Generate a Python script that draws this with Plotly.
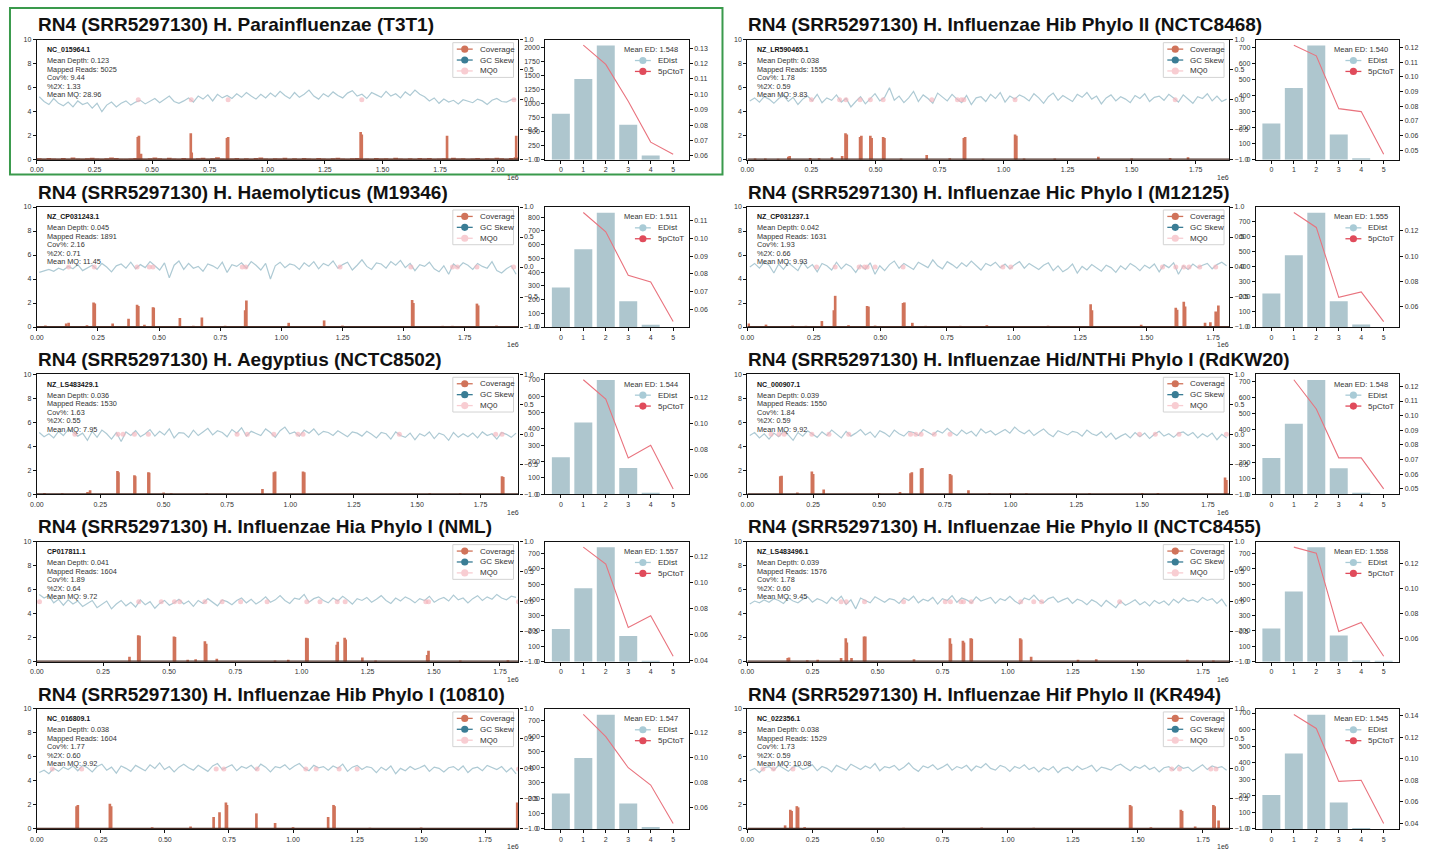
import plotly.graph_objects as go

W, H = 1434, 852

# ---------------- panel metadata ----------------
TITLES = [
    "RN4 (SRR5297130) H. Parainfluenzae (T3T1)",
    "RN4 (SRR5297130) H. Influenzae Hib Phylo II (NCTC8468)",
    "RN4 (SRR5297130) H. Haemolyticus (M19346)",
    "RN4 (SRR5297130) H. Influenzae Hic Phylo I (M12125)",
    "RN4 (SRR5297130) H. Aegyptius (NCTC8502)",
    "RN4 (SRR5297130) H. Influenzae Hid/NTHi Phylo I (RdKW20)",
    "RN4 (SRR5297130) H. Influenzae Hia Phylo I (NML)",
    "RN4 (SRR5297130) H. Influenzae Hie Phylo II (NCTC8455)",
    "RN4 (SRR5297130) H. Influenzae Hib Phylo I (10810)",
    "RN4 (SRR5297130) H. Influenzae Hif Phylo II (KR494)",
]
ACCESSIONS = ["NC_015964.1", "NZ_LR590465.1", "NZ_CP031243.1", "NZ_CP031237.1", "NZ_LS483429.1",
              "NC_000907.1", "CP017811.1", "NZ_LS483496.1", "NC_016809.1", "NC_022356.1"]
MEAN_DEPTH = ["0.123", "0.038", "0.045", "0.042", "0.036", "0.039", "0.041", "0.039", "0.038", "0.038"]
MAPPED_READS = ["5025", "1555", "1891", "1631", "1530", "1550", "1604", "1576", "1604", "1529"]
COV_PCT = ["9.44", "1.78", "2.16", "1.93", "1.63", "1.84", "1.89", "1.78", "1.77", "1.73"]
PCT_2X = ["1.33", "0.59", "0.71", "0.66", "0.55", "0.59", "0.64", "0.60", "0.60", "0.59"]
MEAN_MQ = ["28.96", "9.83", "11.45", "9.93", "7.95", "9.92", "9.72", "9.45", "9.92", "10.08"]
MEAN_ED = ["1.548", "1.540", "1.511", "1.555", "1.544", "1.548", "1.557", "1.558", "1.547", "1.545"]
GENOME_LEN = [2.09e6, 1.88e6, 1.97e6, 1.81e6, 1.90e6, 1.83e6, 1.82e6, 1.85e6, 1.88e6, 1.85e6]

# ---------------- GC skew (x100), evenly spaced windows ----------------
SKEW_1 = [5,-3,-8,2,-6,-10,-4,-12,-2,-8,-5,-14,-6,-20,-9,-4,-12,-6,-2,-9,-4,-1,-7,-3,2,-5,0,6,-3,-6,
          -2,3,-4,6,1,8,-2,9,3,7,2,10,4,12,6,1,9,3,11,5,14,7,2,12,4,9,16,6,1,10,5,13,7,3,11,15,6,9,2,12,
          8,4,14,6,10,3,13,7,16,9,5,-2,3,-6,1,-4,-1,-7,0,-3,-5,1,-2,-8,-1,2,-3,-4,0,1]
SKEW_2 = [-2,3,-4,5,1,-6,2,7,-3,4,-8,1,6,-2,9,-5,3,-1,8,-4,2,-12,-3,5,-7,1,10,-2,4,20,-1,6,-5,3,14,-3,8,2,-6,11,
          4,-2,9,1,-5,7,-8,3,5,-3,9,2,12,-4,6,1,8,4,-2,10,3,-6,5,11,-1,7,2,-3,9,4,12,1,6,-7,3,8,-2,5,1,-5,
          7,2,10,-3,4,6,-1,9,3,-4,8,1,-6,5,2,10,-2,6,-3,1]
SKEW_3 = [-9,-6,-4,-7,-2,-5,1,-3,4,-6,-1,3,-4,6,0,-8,2,5,-2,8,-3,4,-1,9,2,-5,7,-18,3,10,-4,6,-2,1,-7,5,2,-3,8,-9,
          4,1,7,-2,9,3,-5,6,-20,2,8,-1,5,3,-4,7,1,9,-3,6,2,10,-2,4,8,-5,3,12,1,-4,7,5,-2,9,3,11,-1,6,-6,4,
          1,8,-3,-8,2,-12,5,-1,7,3,-4,6,1,-2,9,-6,-10,-3,2,-12]
SKEW_4 = [0,6,-2,8,3,-10,5,-4,7,1,-6,9,-2,4,-8,6,2,-5,8,-3,5,1,-9,3,-4,7,-12,2,-6,4,10,-2,6,1,-4,8,3,-1,12,2,
          -3,9,4,-2,7,1,10,3,-5,6,2,8,-1,5,-3,4,9,-2,6,1,-4,3,7,-6,2,-8,-3,5,-10,1,-5,4,-2,-7,3,-1,-9,2,-4,6,
          1,-6,3,-2,5,-8,4,-1,7,-12,2,-4,5,-1,3,6,-3,4,8,2]
SKEW_5 = [3,-4,1,-6,5,-2,8,4,-3,2,-10,5,-5,7,1,-8,3,-12,4,-2,6,-4,1,8,-3,5,-1,9,-6,3,2,-5,7,-2,4,10,-1,6,3,-4,
          8,2,11,-3,5,1,-2,9,3,-5,6,12,1,4,-3,7,2,9,-1,5,3,-2,6,1,-4,4,2,-3,5,0,-6,3,1,-8,4,-2,-5,2,-9,1,
          -3,4,-7,2,-1,-10,3,-5,1,-4,2,-6,4,-2,1,-8,3,0,-5,2]
SKEW_6 = [-2,3,-6,1,-8,2,-4,5,-1,-10,3,-3,6,1,-5,4,-2,7,0,-6,5,-3,2,8,-1,4,-5,6,2,-4,7,1,-3,5,3,-2,8,4,-1,6,
          2,10,3,-2,7,1,5,-3,9,2,6,-1,4,8,2,12,5,1,7,-2,4,9,1,-4,6,2,-1,5,3,-3,7,1,-2,4,-5,2,-8,-3,1,-6,
          3,-4,2,-7,0,5,-3,1,-5,2,4,-2,3,-6,1,-4,2,-9,0,-6]
SKEW_7 = [12,6,10,-2,4,-6,3,-4,1,-8,-3,2,-10,-5,1,-12,-4,2,-7,-1,-9,3,-5,0,-11,-3,2,-6,-2,4,-4,1,-8,2,-3,5,-1,-7,3,0,
          -5,2,6,-2,4,-4,1,8,-1,3,10,2,-3,6,4,12,-1,5,8,2,-2,6,1,9,3,-4,5,2,7,-1,4,10,2,-3,6,1,8,4,-2,5,
          2,9,-1,4,7,1,11,3,6,-2,5,10,2,8,4,12,6,3,9,7]
SKEW_8 = [-4,1,-2,3,-1,5,2,-3,6,1,-2,4,8,-1,5,2,-3,7,1,9,-5,3,-12,6,2,-2,8,4,-1,5,3,-3,6,2,9,-2,4,1,7,-4,
          5,2,10,-1,6,3,-2,8,1,4,7,-3,5,2,9,1,-4,6,3,11,2,-2,5,8,-1,3,6,-3,4,1,-5,3,-1,-8,2,-4,-10,1,-6,-2,
          3,-5,0,-7,2,-3,1,-6,4,-2,6,1,3,-1,7,2,5,-3,4,-8]
SKEW_9 = [-6,-2,-8,1,-4,3,-1,5,-3,6,2,-5,4,8,-2,3,-7,5,1,-4,6,2,-3,7,1,10,-1,4,-5,3,8,2,-2,6,1,-4,5,9,-1,3,
          7,-3,4,1,6,-2,8,3,-5,4,2,7,-1,5,9,1,-3,6,2,4,-2,5,1,8,-4,3,6,-1,4,2,-6,3,-2,5,-8,1,-3,4,-1,2,
          6,-4,3,1,-5,2,4,-2,5,-6,1,3,-3,6,2,-1,4,-5,2,-8]
SKEW_10 = [-3,1,-6,2,4,-2,6,1,-4,3,5,-1,2,7,-3,4,1,-5,6,2,-2,8,3,-1,5,1,9,-3,4,2,6,-2,3,10,1,-4,5,2,7,-1,
           3,8,-2,4,1,6,-3,5,2,9,1,-2,6,3,-4,4,1,7,-1,3,-5,2,-2,4,-6,1,3,-3,5,-1,2,6,-4,3,1,-2,5,8,2,-3,
           4,1,6,-1,3,-5,2,4,-2,6,1,3,-4,2,7,-1,5,2,4,-2]

# ---------------- coverage: low background (x100, panel 1 only) ----------------
LOW_1 = [12,8,15,10,6,14,9,18,11,7,13,16,10,8,12,19,14,9,6,11,15,10,7,13,18,12,9,16,11,8,
         14,10,6,12,17,9,13,20,11,8,10,15,7,12,9,14,18,10,6,13,11,16,8,12,9,15,10,7,14,11,
         9,13,17,10,8,12,15,9,11,6,14,10,13,8,16,11,9,12,7,15,10,14,8,11,13,9,16,10,12,8,
         11,15,9,13,10,17,12,8,14,20]

# ---------------- coverage peaks: positions (Mb) and depth ----------------
COVPOS_1 = [0.438,0.443,0.452,0.668,0.672,0.825,0.83,1.405,1.41,1.78,2.08]
COVH_1 = [1.9,2.0,0.5,2.2,0.6,1.8,1.9,2.3,2.1,2.0,2.0]
COVPOS_2 = [0.383,0.388,0.44,0.445,0.48,0.485,0.53,0.535,0.845,0.85,1.045,1.05,0.16,0.165,0.70,0.37,0.245,0.03,1.37,
            0.07,0.12,0.28,0.33,0.6,0.79,0.92,1.08,1.2,1.5,1.65,1.72]
COVH_2 = [2.2,2.1,1.9,2.0,2.0,1.8,1.9,1.8,1.8,1.9,2.1,2.0,0.25,0.3,0.4,0.3,0.15,0.1,0.25,
          0.1,0.08,0.12,0.2,0.1,0.12,0.08,0.1,0.1,0.1,0.15,0.2]
COVPOS_3 = [0.232,0.237,0.41,0.415,0.475,0.478,0.585,0.675,0.852,0.857,1.535,1.54,1.80,1.805,0.375,0.13,0.12,0.31,
            1.03,1.175,0.035,0.205,0.44,0.64,0.77,1.25,1.66,1.70,1.88]
COVH_3 = [2.05,1.95,1.85,1.75,1.65,1.6,0.75,0.8,1.4,2.2,2.25,2.0,1.95,1.8,0.7,0.35,0.3,0.3,
          0.35,0.55,0.12,0.15,0.2,0.1,0.1,0.12,0.1,0.1,0.12]
COVPOS_4 = [0.325,0.33,0.45,0.455,0.585,0.59,0.28,0.62,1.29,1.295,1.61,1.615,1.64,1.645,1.76,1.77,0.005,0.07,
            0.17,0.22,0.38,0.48,0.67,0.8,0.9,1.13,1.48,1.72,1.74]
COVH_4 = [1.4,2.6,1.75,1.7,2.0,2.05,0.5,0.35,1.9,1.4,1.6,1.45,2.1,1.7,1.3,1.8,0.3,0.2,
          0.12,0.1,0.15,0.12,0.1,0.1,0.15,0.1,0.2,0.35,0.4]
COVPOS_5 = [0.318,0.322,0.385,0.388,0.44,0.443,0.935,0.94,1.05,1.055,1.835,1.84,0.21,0.89,0.03,0.1,0.2,0.5,
            0.53,0.67,1.55,1.67,1.95]
COVH_5 = [1.95,1.85,1.6,1.5,1.85,1.8,1.85,1.9,1.9,1.85,1.5,1.45,0.35,0.45,0.12,0.1,0.2,0.15,
          0.1,0.1,0.1,0.1,0.12]
COVPOS_6 = [0.125,0.13,0.245,0.25,0.62,0.625,0.66,0.665,0.77,0.775,1.815,1.82,0.29,0.84,0.19,0.5,0.58,0.92,
            1.0,1.06,1.3,1.5,1.56]
COVH_6 = [1.5,1.55,1.9,1.7,1.75,1.85,2.15,2.2,1.7,1.6,1.4,1.2,0.4,0.35,0.15,0.12,0.2,0.1,
          0.12,0.1,0.08,0.12,0.12]
COVPOS_7 = [0.383,0.388,0.518,0.522,0.635,0.64,1.018,1.023,1.133,1.137,1.163,1.167,1.475,1.48,0.35,1.23,0.57,0.6,
            0.68,0.9,0.95,1.28,1.6,1.78]
COVH_7 = [2.2,2.15,2.1,2.05,1.7,1.5,2.0,1.95,1.4,1.65,2.0,1.85,0.55,0.9,0.4,0.35,0.15,0.2,
          0.25,0.1,0.15,0.1,0.1,0.12]
COVPOS_8 = [0.378,0.382,0.448,0.453,0.778,0.782,0.828,0.832,0.858,0.862,1.048,1.052,0.155,0.16,1.09,0.36,0.4,0.27,
            0.23,0.64,1.27,1.34,1.69,1.79]
COVH_8 = [1.95,1.6,2.1,2.1,1.95,1.5,1.75,1.6,1.95,1.9,1.95,1.85,0.3,0.35,0.4,0.3,0.3,0.15,
          0.12,0.2,0.15,0.2,0.15,0.1]
COVPOS_9 = [0.155,0.16,0.285,0.29,0.69,0.713,0.738,0.742,0.857,1.137,1.158,1.162,1.875,1.88,0.93,0.45,0.6,1.0,1.3,1.5]
COVH_9 = [1.9,2.0,2.1,1.9,1.0,1.4,2.2,2.0,1.3,1.0,2.0,1.9,2.2,1.8,0.5,0.15,0.2,0.15,0.1,0.12]
COVPOS_10 = [0.145,0.165,0.17,0.19,0.195,1.47,1.475,1.665,1.67,1.79,1.795,1.81,0.22,0.6,0.9,1.1,1.55,1.72]
COVH_10 = [0.3,1.6,1.5,1.9,1.8,2.0,1.9,1.6,1.5,2.0,1.9,0.7,0.15,0.1,0.12,0.1,0.15,0.2]

# ---------------- MQ0 window positions (Mb) ----------------
MQ0_1 = [0.44,0.67,0.83,1.41,2.07]
MQ0_2 = [0.25,0.36,0.385,0.44,0.48,0.53,0.72,0.82,0.835,0.845,1.045,1.67]
MQ0_3 = [0.13,0.235,0.41,0.46,0.475,0.84,0.855,1.24,1.53,1.70,1.72,1.80,1.95]
MQ0_4 = [0.26,0.33,0.42,0.44,0.45,0.48,0.585,0.96,0.99,1.56,1.61,1.64,1.66,1.70,1.76]
MQ0_5 = [0.15,0.32,0.34,0.385,0.44,0.79,0.83,0.935,1.03,1.05,1.43,1.81,1.835,1.94]
MQ0_6 = [0.09,0.12,0.14,0.245,0.31,0.385,0.62,0.64,0.66,0.71,0.77,1.49,1.55,1.64,1.82]
MQ0_7 = [0.01,0.385,0.47,0.52,0.54,0.635,0.70,0.77,0.87,1.02,1.07,1.135,1.165,1.47,1.48,1.82]
MQ0_8 = [0.36,0.38,0.45,0.60,0.76,0.78,0.82,0.83,0.86,1.05,1.10,1.13,1.43]
MQ0_9 = [0.06,0.175,0.70,0.73,0.86,1.05,1.09,1.18,1.25,1.88]
MQ0_10 = [0.06,0.10,0.175,1.63,1.66,1.78,1.80]

# ---------------- edit distance histogram & 5' C->T ----------------
ED_BINS = [0, 1, 2, 3, 4, 5]
CTOT_POS = [1, 2, 3, 4, 5]
EDIST_1 = [820,1440,2040,625,75,0]
EDIST_2 = [226,448,714,158,9,0]
EDIST_3 = [288,566,833,188,16,0]
EDIST_4 = [221,475,756,170,16,0]
EDIST_5 = [227,439,699,161,10,0]
EDIST_6 = [225,438,709,162,10,0]
EDIST_7 = [210,474,737,165,6,0]
EDIST_8 = [215,455,740,170,8,2]
EDIST_9 = [230,460,740,165,12,0]
EDIST_10 = [205,455,690,160,5,0]
CTOT_1 = [0.132,0.1195,0.0955,0.0689,0.061]
CTOT_2 = [0.1217,0.1144,0.0784,0.0764,0.0473]
CTOT_3 = [0.1144,0.1036,0.0793,0.0755,0.0534]
CTOT_4 = [0.1347,0.1228,0.0672,0.0716,0.048]
CTOT_5 = [0.134,0.119,0.0733,0.0832,0.0493]
CTOT_6 = [0.1245,0.1046,0.0712,0.0712,0.05]
CTOT_7 = [0.1273,0.1142,0.0652,0.0743,0.043]
CTOT_8 = [0.1328,0.128,0.0653,0.0725,0.0455]
CTOT_9 = [0.135,0.117,0.092,0.078,0.047]
CTOT_10 = [0.141,0.128,0.079,0.080,0.040]

SKEWS = [SKEW_1, SKEW_2, SKEW_3, SKEW_4, SKEW_5, SKEW_6, SKEW_7, SKEW_8, SKEW_9, SKEW_10]
COVPOS = [COVPOS_1, COVPOS_2, COVPOS_3, COVPOS_4, COVPOS_5, COVPOS_6, COVPOS_7, COVPOS_8, COVPOS_9, COVPOS_10]
COVH = [COVH_1, COVH_2, COVH_3, COVH_4, COVH_5, COVH_6, COVH_7, COVH_8, COVH_9, COVH_10]
MQ0S = [MQ0_1, MQ0_2, MQ0_3, MQ0_4, MQ0_5, MQ0_6, MQ0_7, MQ0_8, MQ0_9, MQ0_10]
EDISTS = [EDIST_1, EDIST_2, EDIST_3, EDIST_4, EDIST_5, EDIST_6, EDIST_7, EDIST_8, EDIST_9, EDIST_10]
CTOTS = [CTOT_1, CTOT_2, CTOT_3, CTOT_4, CTOT_5, CTOT_6, CTOT_7, CTOT_8, CTOT_9, CTOT_10]
LOWS = {0: LOW_1}

# ---------------- styling ----------------
FONT = "Liberation Sans, Arial, Helvetica, sans-serif"
COV_C = "#d0735a"
COV_BASE = "#4a2e26"
GC_LEG = "#3a7d95"
GC_LINE = "#aecad4"
MQ0_C = "#f4b3bc"
ED_C = "#aec6ce"
CT_LINE = "#e9737e"
CT_LEG = "#e04b5b"
ED_LEG = "#a9cbd6"
TICKC = "#333333"

def fx(px):
    return px / W

def fy(py):
    return 1 - py / H

fig = go.Figure()
layout = {}
annotations = []
shapes = []

def akey(kind, n):
    return kind if n == 1 else f"{kind}{n}"

def add_text(x, y, text, size, bold=False, xanchor="left", color="#222"):
    annotations.append(dict(x=fx(x), y=fy(y), xref="paper", yref="paper", text=(f"<b>{text}</b>" if bold else text),
                            showarrow=False, xanchor=xanchor, yanchor="middle",
                            font=dict(size=size, family=FONT, color=color)))

def legend_item(x_line0, x_line1, y, color, label, size=8):
    shapes.append(dict(type="line", xref="paper", yref="paper", x0=fx(x_line0), x1=fx(x_line1), y0=fy(y), y1=fy(y),
                       line=dict(color=color, width=1.3)))
    cx = (x_line0 + x_line1) / 2
    r = 3.6
    shapes.append(dict(type="circle", xref="paper", yref="paper", x0=fx(cx - r), x1=fx(cx + r),
                       y0=fy(y + r), y1=fy(y - r), fillcolor=color, line=dict(color=color, width=0)))
    add_text(x_line1 + 5, y, label, size, color="#333")

for i in range(10):
    row, col = divmod(i, 2)
    X0 = 0 if col == 0 else 714
    top = 36 + 168.7 * row
    bot = top + 121
    cl, cr = X0 + 30, X0 + 514
    bl, br = X0 + 541, X0 + 685
    L = GENOME_LEN[i]

    nx_c, nx_b = i + 1, i + 11
    ny_c, ny_g, ny_b, ny_t = i + 1, i + 11, i + 21, i + 31
    xc, xb = f"x{nx_c}", f"x{nx_b}"
    yc, yg, yb, yt = f"y{ny_c}", f"y{ny_g}", f"y{ny_b}", f"y{ny_t}"

    # coverage background (panel 1)
    if i in LOWS:
        low = LOWS[i]
        n = len(low)
        fig.add_trace(go.Bar(x=[(k + 0.5) * L / n for k in range(n)], y=[v / 100 for v in low],
                             width=L / n, marker=dict(color=COV_C, line=dict(width=0)),
                             xaxis=xc, yaxis=yc, showlegend=False, hoverinfo="skip"))
    # coverage peaks
    fig.add_trace(go.Bar(x=[p * 1e6 for p in COVPOS[i]], y=COVH[i], width=L * 0.0055,
                         marker=dict(color=COV_C, line=dict(width=0)),
                         xaxis=xc, yaxis=yc, showlegend=False))
    # zero-depth baseline of the coverage track
    fig.add_trace(go.Scatter(x=[0, L], y=[0, 0], mode="lines", line=dict(color=COV_BASE, width=2.2),
                             xaxis=xc, yaxis=yc, showlegend=False, hoverinfo="skip"))
    # GC skew
    sk = SKEWS[i]
    n = len(sk)
    fig.add_trace(go.Scatter(x=[(k + 0.5) * L / n for k in range(n)], y=[v / 100 for v in sk], mode="lines",
                             line=dict(color=GC_LINE, width=1.2), xaxis=xc, yaxis=yg, showlegend=False))
    # MQ0
    fig.add_trace(go.Scatter(x=[p * 1e6 for p in MQ0S[i]], y=[0.0] * len(MQ0S[i]), mode="markers",
                             marker=dict(color=MQ0_C, size=5, opacity=0.65, line=dict(width=0)),
                             xaxis=xc, yaxis=yg, showlegend=False))
    # edit distance bars
    ed = EDISTS[i]
    fig.add_trace(go.Bar(x=ED_BINS, y=ed, width=0.8, marker=dict(color=ED_C, line=dict(width=0)),
                         xaxis=xb, yaxis=yb, showlegend=False))
    ct = CTOTS[i]
    fig.add_trace(go.Scatter(x=CTOT_POS, y=ct, mode="lines", line=dict(color=CT_LINE, width=1.1),
                             xaxis=xb, yaxis=yt, showlegend=False))

    dom_y = [fy(bot), fy(top)]
    axis_common = dict(showline=True, linecolor="#111", linewidth=1.3, ticks="outside", ticklen=3,
                       tickwidth=1, tickcolor="#111", showgrid=False, zeroline=False,
                       tickfont=dict(size=7, family=FONT, color=TICKC))

    tv = []
    v = 0.0
    while v <= L:
        tv.append(v)
        v += 250000
    layout[akey("xaxis", nx_c)] = dict(axis_common, domain=[fx(cl), fx(cr)], range=[0, L], anchor=yc,
                                       mirror=True, tickvals=tv, ticktext=[f"{t/1e6:.2f}" for t in tv])
    layout[akey("yaxis", ny_c)] = dict(axis_common, domain=dom_y, range=[0, 10], anchor=xc, mirror=True,
                                       tickvals=[0, 2, 4, 6, 8, 10])
    layout[akey("yaxis", ny_g)] = dict(axis_common, overlaying=yc, side="right", range=[-1, 1], anchor=xc,
                                       tickvals=[-1, -0.5, 0, 0.5, 1],
                                       ticktext=["\u22121.0", "\u22120.5", "0.0", "0.5", "1.0"])
    layout[akey("xaxis", nx_b)] = dict(axis_common, domain=[fx(bl), fx(br)], range=[-0.69, 5.69], anchor=yb,
                                       mirror=True, tickvals=ED_BINS)
    emax = max(ed)
    layout[akey("yaxis", ny_b)] = dict(axis_common, domain=dom_y, range=[0, emax * 1.05], anchor=xb, mirror=True,
                                       dtick=(250 if emax > 1000 else 100), tick0=0)
    cmin, cmax = min(ct), max(ct)
    span = cmax - cmin
    pad = span * 0.05
    layout[akey("yaxis", ny_t)] = dict(axis_common, overlaying=yb, side="right", range=[cmin - pad, cmax + pad],
                                       anchor=xb, dtick=(0.01 if span < 0.08 else 0.02), tick0=0,
                                       tickformat=".2f")

    # title
    add_text(X0 + 29, top - 15, TITLES[i], 19, bold=True, color="#111")
    # stats text
    add_text(cl + 8, top + 10, ACCESSIONS[i], 7, bold=True, color="#111")
    stats = [f"Mean Depth: {MEAN_DEPTH[i]}", f"Mapped Reads: {MAPPED_READS[i]}", f"Cov%: {COV_PCT[i]}",
             f"%2X: {PCT_2X[i]}", f"Mean MQ: {MEAN_MQ[i]}"]
    for k, s in enumerate(stats):
        add_text(cl + 8, top + 21 + 8.6 * k, s, 7.3, color="#333")
    # 1e6 offset label
    add_text(cr - 6, bot + 18, "1e6", 7, xanchor="center", color=TICKC)

    # coverage legend box
    shapes.append(dict(type="rect", xref="paper", yref="paper", x0=fx(cr - 66), x1=fx(cr - 5),
                       y0=fy(top + 38), y1=fy(top + 3), fillcolor="rgba(255,255,255,0.85)",
                       line=dict(color="#d3d3d3", width=1)))
    legend_item(cr - 62, cr - 46, top + 9.5, COV_C, "Coverage")
    legend_item(cr - 62, cr - 46, top + 20.5, GC_LEG, "GC Skew")
    legend_item(cr - 62, cr - 46, top + 31.5, "#f8cdd2", "MQ0")

    # ED legend
    add_text(br - 38, top + 10, f"Mean ED: {MEAN_ED[i]}", 7.5, xanchor="center", color="#333")
    legend_item(br - 54, br - 38, top + 21, ED_LEG, "EDist")
    legend_item(br - 54, br - 38, top + 32, CT_LEG, "5pCtoT")

# highlight box around first panel
shapes.append(dict(type="rect", xref="paper", yref="paper", x0=fx(3), x1=fx(719), y0=fy(172), y1=fy(4),
                   line=dict(color="#3a9a4c", width=2), fillcolor="rgba(0,0,0,0)"))

fig.update_layout(
    width=W, height=H, autosize=False,
    margin=dict(l=0, r=0, t=0, b=0),
    paper_bgcolor="white", plot_bgcolor="white",
    barmode="overlay", showlegend=False,
    font=dict(family=FONT, size=7, color=TICKC),
    annotations=annotations, shapes=shapes,
    **layout,
)

fig.write_html("out.html")
